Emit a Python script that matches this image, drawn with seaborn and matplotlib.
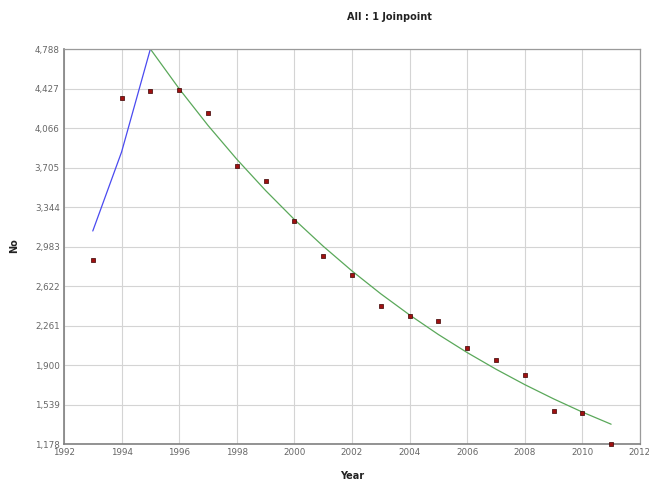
import matplotlib
matplotlib.use("Agg")
import matplotlib.pyplot as plt
import seaborn as sns
import pandas as pd
from matplotlib.ticker import FuncFormatter

# Observed counts per year
years = [1993, 1994, 1995, 1996, 1997, 1998, 1999, 2000, 2001, 2002,
         2003, 2004, 2005, 2006, 2007, 2008, 2009, 2010, 2011]
observed = [2860, 4340, 4404, 4413, 4203, 3719, 3582, 3216, 2896, 2722,
            2439, 2348, 2302, 2055, 1946, 1808, 1479, 1461, 1178]

# Fitted joinpoint model: segment 1 (1993-1995), segment 2 (1995-2011)
seg1_years = [1993, 1994, 1995]
seg1_fit = [3125, 3847, 4788]
seg2_years = [1995, 1996, 1997, 1998, 1999, 2000, 2001, 2002, 2003,
              2004, 2005, 2006, 2007, 2008, 2009, 2010, 2011]
seg2_fit = [4788, 4425, 4090, 3781, 3495, 3230, 2986, 2760, 2551,
            2358, 2179, 2014, 1862, 1721, 1591, 1470, 1359]

y_ticks = [1178, 1539, 1900, 2261, 2622, 2983, 3344, 3705, 4066, 4427, 4788]
x_ticks = list(range(1992, 2013, 2))

sns.set_theme(style="white")
plt.rcParams["font.family"] = ["DejaVu Sans"]

fig = plt.figure(figsize=(6.49, 4.82), dpi=100)
ax = fig.add_axes([0.0986, 0.0788, 0.8874, 0.8195])

obs_df = pd.DataFrame({"Year": years, "No": observed})
s1 = pd.DataFrame({"Year": seg1_years, "No": seg1_fit})
s2 = pd.DataFrame({"Year": seg2_years, "No": seg2_fit})

sns.lineplot(data=s1, x="Year", y="No", ax=ax, color="#4a4af0", lw=0.9)
sns.lineplot(data=s2, x="Year", y="No", ax=ax, color="#5aa85a", lw=0.9)
sns.scatterplot(data=obs_df, x="Year", y="No", ax=ax, marker="s", s=10,
                color="#a01010", edgecolor="#3a0000", linewidth=0.5,
                zorder=5, clip_on=False)

ax.set_xlim(1992, 2012)
ax.set_ylim(1178, 4788)
ax.set_xticks(x_ticks)
ax.set_yticks(y_ticks)
ax.yaxis.set_major_formatter(FuncFormatter(lambda v, p: f"{int(round(v)):,}"))
ax.grid(True, color="#d4d4d4", lw=0.8)
ax.set_axisbelow(True)
ax.tick_params(axis="both", labelsize=6.3, colors="#666666", length=0, pad=3)
for sp in ax.spines.values():
    sp.set_color("#9a9a9a")
    sp.set_linewidth(0.9)
ax.spines["left"].set_color("#808080")
ax.spines["bottom"].set_color("#808080")
ax.spines["left"].set_linewidth(1.2)
ax.spines["bottom"].set_linewidth(1.2)

ax.set_xlabel("")
ax.set_ylabel("")
fig.text(0.600, 0.965, "All : 1 Joinpoint", ha="center", va="center",
         fontsize=7, fontweight="bold", color="#222222")
fig.text(0.542, 0.013, "Year", ha="center", va="center",
         fontsize=7, fontweight="bold", color="#222222")
fig.text(0.022, 0.49, "No", ha="center", va="center", rotation=90,
         fontsize=7, fontweight="bold", color="#222222")

fig.savefig("out.png", dpi=100)
